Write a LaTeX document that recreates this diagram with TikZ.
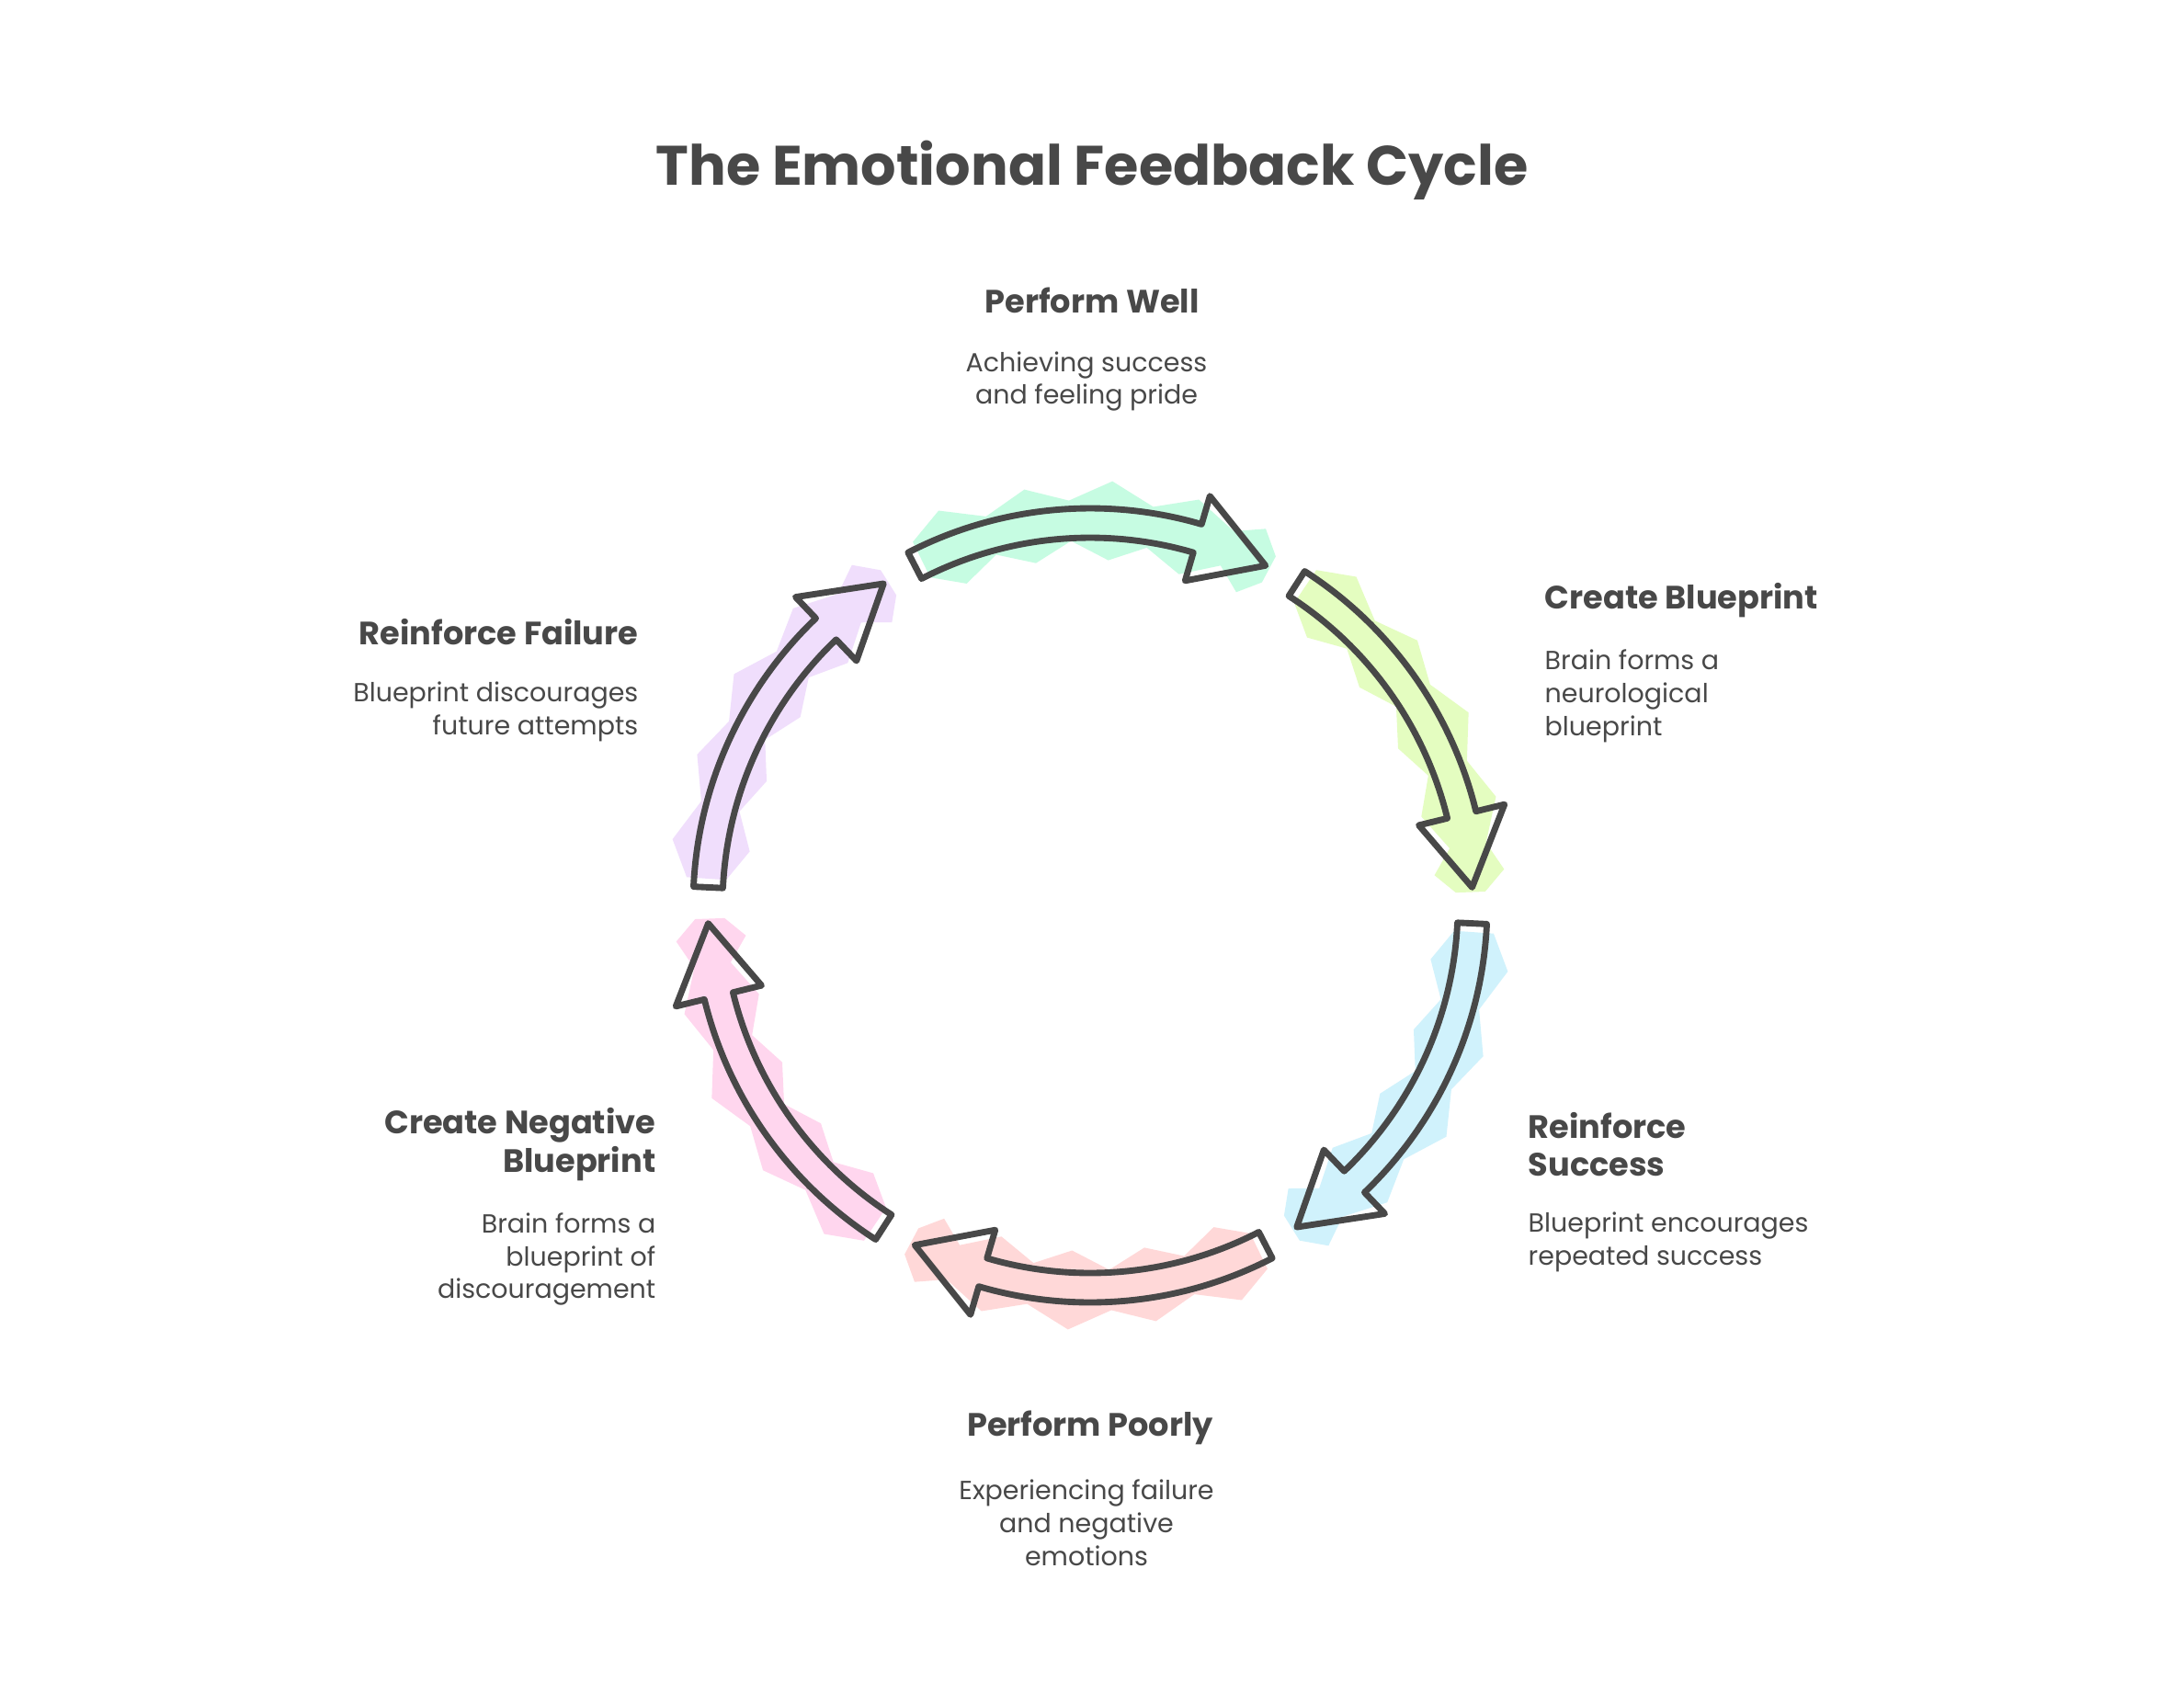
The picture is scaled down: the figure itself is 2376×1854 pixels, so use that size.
\documentclass[tikz,border=0pt]{standalone}
\usepackage{fontspec}
\setmainfont{Poppins}
\definecolor{ink}{RGB}{72,72,72}
\definecolor{mint}{RGB}{198,252,226}
\definecolor{lime}{RGB}{228,253,192}
\definecolor{sky}{RGB}{208,242,252}
\definecolor{blush}{RGB}{255,216,216}
\definecolor{rose}{RGB}{255,214,238}
\definecolor{lilac}{RGB}{240,222,252}
\tikzset{
  titletext/.style={font=\fontsize{17.2}{20}\selectfont\bfseries, text=ink, inner sep=0pt},
  heading/.style={font=\fontsize{10}{11.9}\selectfont\bfseries, text=ink, inner sep=0pt},
  blurb/.style={font=\fontsize{8.1}{10.2}\selectfont, text=ink, inner sep=0pt},
  outline/.style={draw=ink, line width=1.95pt, line join=round},
}
% #1 colour, #2 middle angle of the arrow on the ring
\newcommand\cyclearrow[2]{%
  \fill[#1] ({#2+26}:440) \foreach \d/\r in {21/460,15/438,9/458,3/441,-3/462,-9/439,-15/457,-21/436,-25/452,-28/430,
      -28/398,-25/376,-21/396,-15/373,-9/394,-3/376,3/397,9/377,15/395,21/375,26/397} { -- ({#2+\d}:\r) } -- cycle;
  \draw[outline] ({#2+27.3}:432) arc[start angle={#2+27.3}, end angle={#2-16.3}, radius=432]
    -- ({#2-16.3}:464) -- ({#2-27.3}:416) -- ({#2-16.3}:368) -- ({#2-16.3}:400)
    arc[start angle={#2-16.3}, end angle={#2+27.3}, radius=400] -- cycle;
}

\begin{document}
\begin{tikzpicture}[x=0.01cm,y=-0.01cm]
  \fill[white] (0,0) rectangle (2376,1854);
  \useasboundingbox (0,0) rectangle (2376,1854);

  \node[titletext] (title) at (1188,185) {The Emotional Feedback Cycle};

  % ring of arrows
  \begin{scope}[shift={(1186,985)}, y=0.01cm]
    \cyclearrow{mint}{90}
    \cyclearrow{lime}{30}
    \cyclearrow{sky}{-30}
    \cyclearrow{blush}{-90}
    \cyclearrow{rose}{-150}
    \cyclearrow{lilac}{150}
  \end{scope}

  \node[heading] (wellT) at (1188,327) {Perform Well};
  \node[blurb,align=center] (wellD) at (1182,415) {Achieving success\\and feeling pride};

  \node[heading,anchor=west] (printT) at (1680,653) {Create Blueprint};
  \node[blurb,anchor=west,align=left] (printD) at (1680,757) {Brain forms a\\neurological\\blueprint};

  \node[heading,anchor=west,align=left] (successT) at (1662,1245) {Reinforce\\Success};
  \node[blurb,anchor=west,align=left] (successD) at (1662,1351) {Blueprint encourages\\repeated success};

  \node[heading] (poorT) at (1186,1553) {Perform Poorly};
  \node[blurb,align=center] (poorD) at (1182,1657) {Experiencing failure\\and negative\\emotions};

  \node[heading,anchor=east,align=right] (negT) at (714,1245) {Create Negative\\Blueprint};
  \node[blurb,anchor=east,align=right] (negD) at (714,1370) {Brain forms a\\blueprint of\\discouragement};

  \node[heading,anchor=east] (failT) at (695,688) {Reinforce Failure};
  \node[blurb,anchor=east,align=right] (failD) at (695,774) {Blueprint discourages\\future attempts};
\end{tikzpicture}
\end{document}
